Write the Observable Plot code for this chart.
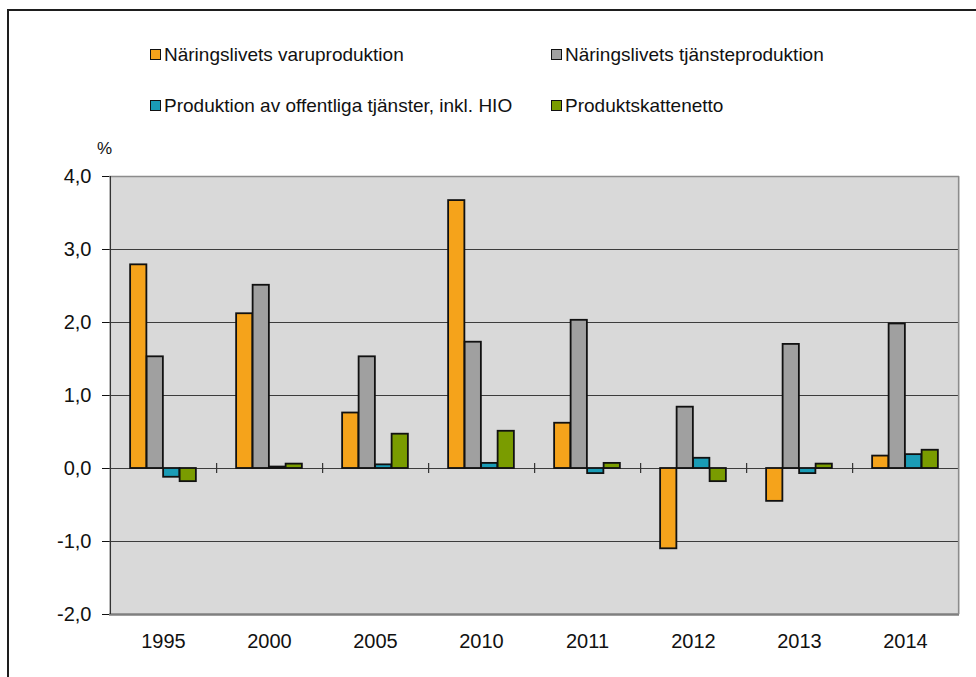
<!DOCTYPE html>
<html>
<head>
<meta charset="utf-8">
<script src="https://cdn.jsdelivr.net/npm/d3@7"></script>
<script src="https://cdn.jsdelivr.net/npm/@observablehq/plot@0.6"></script>
<style>
  html, body { margin: 0; padding: 0; background: #fff; }
  body { width: 976px; height: 677px; overflow: hidden; position: relative; font-family: "Liberation Sans", Arial, sans-serif; }
  #border { position: absolute; left: 7px; top: 9px; width: 1000px; height: 700px; border-left: 2px solid #1e1e1e; border-top: 2px solid #1e1e1e; box-sizing: border-box; }
  .leg { position: absolute; display: flex; align-items: center; font-size: 19px; color: #111; white-space: nowrap; line-height: 1; }
  .sw { width: 9px; height: 9px; border: 1.5px solid #111; margin-right: 3px; }
  #pct { position: absolute; left: 97px; top: 139px; font-size: 17px; color: #111; }
  #chart { position: absolute; left: 0; top: 0; }
</style>
</head>
<body>
<div id="border"></div>
<div id="legend"></div>
<div id="pct">%</div>
<div id="chart"></div>
<script>
const years = ["1995", "2000", "2005", "2010", "2011", "2012", "2013", "2014"];
const seriesNames = [
  "Näringslivets varuproduktion",
  "Näringslivets tjänsteproduktion",
  "Produktion av offentliga tjänster, inkl. HIO",
  "Produktskattenetto"
];
const seriesColors = ["#f5a31b", "#a0a0a0", "#1a9cb6", "#7a9c00"];
const varuproduktion   = [2.79, 2.12, 0.76, 3.67, 0.62, -1.10, -0.45, 0.17];
const tjansteproduktion = [1.53, 2.51, 1.53, 1.73, 2.03, 0.84, 1.70, 1.98];
const offentliga       = [-0.12, 0.02, 0.05, 0.07, -0.07, 0.14, -0.07, 0.19];
const produktskatt     = [-0.18, 0.06, 0.47, 0.51, 0.07, -0.18, 0.06, 0.25];
const yTicks = [-2, -1, 0, 1, 2, 3, 4];

const seriesValues = [varuproduktion, tjansteproduktion, offentliga, produktskatt];

// legend
const legendPos = [
  {left: 150, top: 54}, {left: 551, top: 54},
  {left: 150, top: 105}, {left: 551, top: 105}
];
const legend = document.getElementById("legend");
seriesNames.forEach((name, i) => {
  const d = document.createElement("div");
  d.className = "leg";
  d.style.left = legendPos[i].left + "px";
  d.style.top = (legendPos[i].top - 10) + "px";
  d.style.height = "20px";
  const sw = document.createElement("span");
  sw.className = "sw";
  sw.style.background = seriesColors[i];
  d.appendChild(sw);
  d.appendChild(document.createTextNode(name));
  legend.appendChild(d);
});

const W = 976, H = 677;
const mLeft = 109, mRight = 17, mTop = 176, mBottom = 63;
const step = (W - mLeft - mRight) / years.length;
const barW = 16.5;
const inset = (step - barW) / 2;

const marks = [
  Plot.frame({fill: "#d9d9d9", stroke: null}),
  Plot.ruleY(yTicks.filter(v => v > -2 && v < 4), {stroke: "#3c3c3c", strokeWidth: 1.2}),
  Plot.ruleY([4], {stroke: "#8c8c8c", strokeWidth: 1.5}),
  Plot.ruleY([-2], {stroke: "#7f7f7f", strokeWidth: 2.5}),
  Plot.ruleX([years[years.length - 1]], {dx: step / 2, stroke: "#8c8c8c", strokeWidth: 1.5}),
  Plot.ruleX(years.slice(0, -1), {dx: step / 2, y1: -0.07, y2: 0.07, stroke: "#333", strokeWidth: 1.2}),
];
seriesValues.forEach((vals, i) => {
  const data = years.map((y, j) => ({year: y, value: vals[j]}));
  marks.push(Plot.barY(data, {
    x: "year", y: "value",
    fill: seriesColors[i], stroke: "#111", strokeWidth: 1.8,
    dx: (i - 1.5) * barW, insetLeft: inset, insetRight: inset
  }));
});
marks.push(Plot.ruleX([years[0]], {dx: -step / 2, stroke: "#333", strokeWidth: 1.3}));

const chart = Plot.plot({
  width: W, height: H,
  marginLeft: mLeft, marginRight: mRight, marginTop: mTop, marginBottom: mBottom,
  style: {fontFamily: "'Liberation Sans', Arial, sans-serif", fontSize: "20px", color: "#111", background: "transparent", overflow: "visible"},
  x: {domain: years, padding: 0, label: null, tickSize: 0, tickPadding: 19},
  y: {domain: [-2, 4], ticks: 6, label: null, tickSize: 7, tickPadding: 11,
      tickFormat: d => d.toFixed(1).replace(".", ",")},
  marks
});
document.getElementById("chart").appendChild(chart);
</script>
</body>
</html>
